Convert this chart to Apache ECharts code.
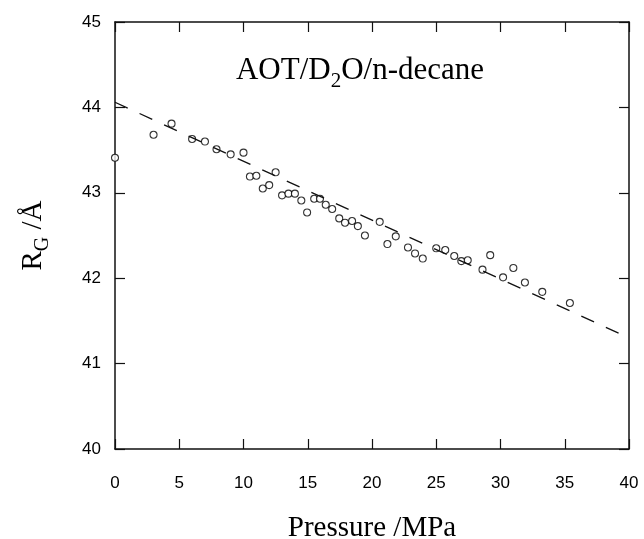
<!DOCTYPE html>
<html>
<head>
<meta charset="utf-8">
<script src="https://cdn.jsdelivr.net/npm/echarts@6/dist/echarts.min.js"></script>
<style>html,body{margin:0;padding:0;background:#fff}#c{width:644px;height:539px}</style>
</head>
<body>
<div id="c"></div>
<script>
var pressure = [0, 3.0, 4.4, 6.0, 7.0, 7.9, 9.0, 10.0, 10.5, 11.0, 11.5, 12.0, 12.5, 13.0, 13.5, 14.0, 14.5, 14.95, 15.5, 15.95, 16.4, 16.9, 17.45, 17.9, 18.45, 18.9, 19.45, 20.6, 21.2, 21.85, 22.8, 23.35, 23.95, 25.0, 25.7, 26.4, 26.95, 27.45, 28.6, 29.2, 30.2, 31.0, 31.9, 33.25, 35.4];
var radius = [43.41, 43.68, 43.81, 43.63, 43.60, 43.51, 43.45, 43.47, 43.19, 43.20, 43.05, 43.09, 43.24, 42.97, 42.99, 42.99, 42.91, 42.77, 42.93, 42.93, 42.86, 42.81, 42.70, 42.65, 42.67, 42.61, 42.50, 42.66, 42.40, 42.49, 42.36, 42.29, 42.23, 42.35, 42.33, 42.26, 42.20, 42.21, 42.10, 42.27, 42.01, 42.12, 41.95, 41.84, 41.71];
var fitX = [0, 40];
var fitY = [44.06, 41.30];
var xTicks = [0, 5, 10, 15, 20, 25, 30, 35, 40];
var yTicks = [40, 41, 42, 43, 44, 45];

var chart = echarts.init(document.getElementById('c'), null, {renderer: 'canvas'});
var sans = 'Liberation Sans, Arial, sans-serif';
var serif = 'Liberation Serif, Times New Roman, serif';
var axisLine = {show: true, onZero: false, lineStyle: {color: '#111', width: 1.5}};
var tick = {show: true, inside: true, length: 10, lineStyle: {color: '#111', width: 1.2}};
var titleMain = {fontFamily: serif, fontSize: 31, fontWeight: 'normal', color: '#000', lineHeight: 42, verticalAlign: 'middle'};
var titleSub = {fontFamily: serif, fontSize: 21, fontWeight: 'normal', color: '#000', lineHeight: 14, verticalAlign: 'bottom'};
var nameMain = {fontFamily: serif, fontSize: 29, fontWeight: 'normal', color: '#000', lineHeight: 40, verticalAlign: 'middle'};
var nameSub = {fontFamily: serif, fontSize: 20, fontWeight: 'normal', color: '#000', lineHeight: 14, verticalAlign: 'bottom'};
chart.setOption({
  animation: false,
  backgroundColor: '#fff',
  grid: {left: 115, top: 22, right: 15, bottom: 90, outerBoundsMode: 'none', containLabel: false},
  title: {
    text: '{a|AOT/D}{s|2}{a|O/n-decane}',
    left: 355, top: 45, textAlign: 'center',
    textStyle: {fontWeight: 'normal', rich: {a: titleMain, s: titleSub}}
  },
  xAxis: [{
    type: 'value', min: xTicks[0], max: xTicks[xTicks.length - 1], interval: 5,
    axisLine: axisLine, axisTick: tick, splitLine: {show: false},
    axisLabel: {margin: 26, fontFamily: sans, fontSize: 17, color: '#000'},
    name: 'Pressure /MPa', nameLocation: 'middle', nameGap: 65,
    nameTextStyle: {fontFamily: serif, fontSize: 29, color: '#000'}
  }, {
    type: 'value', position: 'top', min: 0, max: 40, interval: 5,
    axisLine: axisLine, axisTick: tick, axisLabel: {show: false}, splitLine: {show: false}
  }],
  yAxis: [{
    type: 'value', min: yTicks[0], max: yTicks[yTicks.length - 1], interval: 1,
    axisLine: axisLine, axisTick: tick, splitLine: {show: false},
    axisLabel: {margin: 14, fontFamily: sans, fontSize: 17, color: '#000'},
    name: '{a|R}{s|G}{a| /Å}', nameLocation: 'middle', nameGap: 62,
    nameTextStyle: {rich: {a: nameMain, s: nameSub}}
  }, {
    type: 'value', position: 'right', min: 40, max: 45, interval: 1,
    axisLine: axisLine, axisTick: tick, axisLabel: {show: false}, splitLine: {show: false}
  }],
  series: [{
    type: 'line', data: fitX.map(function (x, i) { return [x, fitY[i]]; }),
    symbol: 'none', silent: true,
    lineStyle: {color: '#111', width: 1.3, type: [14, 13]}
  }, {
    type: 'scatter', data: pressure.map(function (x, i) { return [x, radius[i]]; }),
    symbol: 'circle', symbolSize: 7, clip: false,
    itemStyle: {color: '#fff', borderColor: '#000', borderWidth: 1.1}
  }]
});
</script>
</body>
</html>
